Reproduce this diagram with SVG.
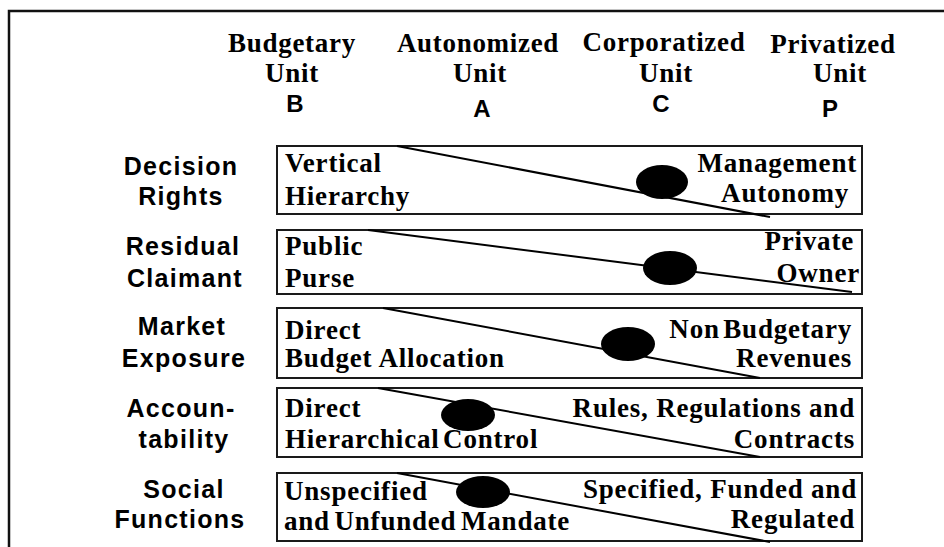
<svg xmlns="http://www.w3.org/2000/svg" width="944" height="547" viewBox="0 0 944 547">
<style>
.hd{font-family:"Liberation Serif","Times New Roman",serif;font-weight:bold;font-size:27px;letter-spacing:0.7px;text-anchor:middle;fill:#000}
.lt{font-family:"Liberation Sans",Arial,sans-serif;font-weight:bold;font-size:24px;text-anchor:middle;fill:#000}
.lb{font-family:"Liberation Sans",Arial,sans-serif;font-weight:bold;font-size:25px;letter-spacing:1.3px;text-anchor:middle;fill:#000}
.bt{font-family:"Liberation Serif","Times New Roman",serif;font-weight:bold;font-size:27px;letter-spacing:0.8px;fill:#000}
.r{text-anchor:end}
.box{fill:#fff;stroke:#1a1a1a;stroke-width:2}
.ln{stroke:#000;stroke-width:2;fill:none}
.dot{fill:#000}
</style>
<rect x="0" y="0" width="944" height="547" fill="#fff"/>
<polyline points="9,547 9,11 944,11" fill="none" stroke="#111" stroke-width="2.5"/>

<g id="header">
<text class="hd" x="292" y="52">Budgetary</text>
<text class="hd" x="292" y="82">Unit</text>
<text class="lt" x="295" y="112">B</text>
<text class="hd" x="478" y="52">Autonomized</text>
<text class="hd" x="480" y="82">Unit</text>
<text class="lt" x="482" y="117">A</text>
<text class="hd" x="664" y="51">Corporatized</text>
<text class="hd" x="666" y="82">Unit</text>
<text class="lt" x="661" y="112">C</text>
<text class="hd" x="833" y="53">Privatized</text>
<text class="hd" x="840" y="82">Unit</text>
<text class="lt" x="830" y="117">P</text>
</g>

<g id="row-labels">
<text class="lb" x="181" y="175">Decision</text>
<text class="lb" x="181" y="205">Rights</text>
<text class="lb" x="183" y="255">Residual</text>
<text class="lb" x="185" y="287">Claimant</text>
<text class="lb" x="182" y="335">Market</text>
<text class="lb" x="184" y="367">Exposure</text>
<text class="lb" x="181" y="417">Accoun-</text>
<text class="lb" x="184" y="448">tability</text>
<text class="lb" x="184" y="498">Social</text>
<text class="lb" x="180" y="528">Functions</text>
</g>

<g id="box-decision">
<rect class="box" x="277" y="146" width="585" height="68"/>
<text class="bt" x="285" y="172">Vertical</text>
<text class="bt" x="285" y="205">Hierarchy</text>
<text class="bt r" x="857" y="172">Management</text>
<text class="bt r" x="849" y="202">Autonomy</text>
</g>
<g id="box-residual">
<rect class="box" x="277" y="230" width="585" height="64"/>
<text class="bt" x="285" y="255">Public</text>
<text class="bt" x="285" y="287">Purse</text>
<text class="bt r" x="854" y="250">Private</text>
<text class="bt r" x="860" y="282">Owner</text>
</g>
<g id="box-market">
<rect class="box" x="277" y="308" width="585" height="70"/>
<text class="bt" x="285" y="339">Direct</text>
<text class="bt" x="285" y="367">Budget Allocation</text>
<text class="bt r" x="852" y="338" word-spacing="-4">Non Budgetary</text>
<text class="bt r" x="852" y="367">Revenues</text>
</g>
<g id="box-accountability">
<rect class="box" x="277" y="388" width="585" height="69"/>
<text class="bt" x="285" y="417">Direct</text>
<text class="bt" x="285" y="448" word-spacing="-4">Hierarchical Control</text>
<text class="bt r" x="855" y="417">Rules, Regulations and</text>
<text class="bt r" x="855" y="448">Contracts</text>
</g>
<g id="box-social">
<rect class="box" x="277" y="473" width="585" height="68"/>
<text class="bt" x="284" y="500">Unspecified</text>
<text class="bt" x="284" y="530" word-spacing="-3">and Unfunded Mandate</text>
<text class="bt r" x="857" y="498">Specified, Funded and</text>
<text class="bt r" x="855" y="528">Regulated</text>
</g>

<g id="connectors">
<line class="ln" x1="397" y1="146" x2="770" y2="217"/>
<line class="ln" x1="368" y1="230" x2="852" y2="292"/>
<line class="ln" x1="383" y1="308" x2="760" y2="378"/>
<line class="ln" x1="378" y1="388" x2="760" y2="457"/>
<line class="ln" x1="397" y1="473" x2="770" y2="542"/>
<ellipse class="dot" cx="662" cy="182" rx="26" ry="17"/>
<ellipse class="dot" cx="670" cy="268" rx="27" ry="17"/>
<ellipse class="dot" cx="628" cy="344" rx="27" ry="17"/>
<ellipse class="dot" cx="468" cy="415" rx="27" ry="16"/>
<ellipse class="dot" cx="483" cy="492" rx="27" ry="16"/>
</g>
</svg>
